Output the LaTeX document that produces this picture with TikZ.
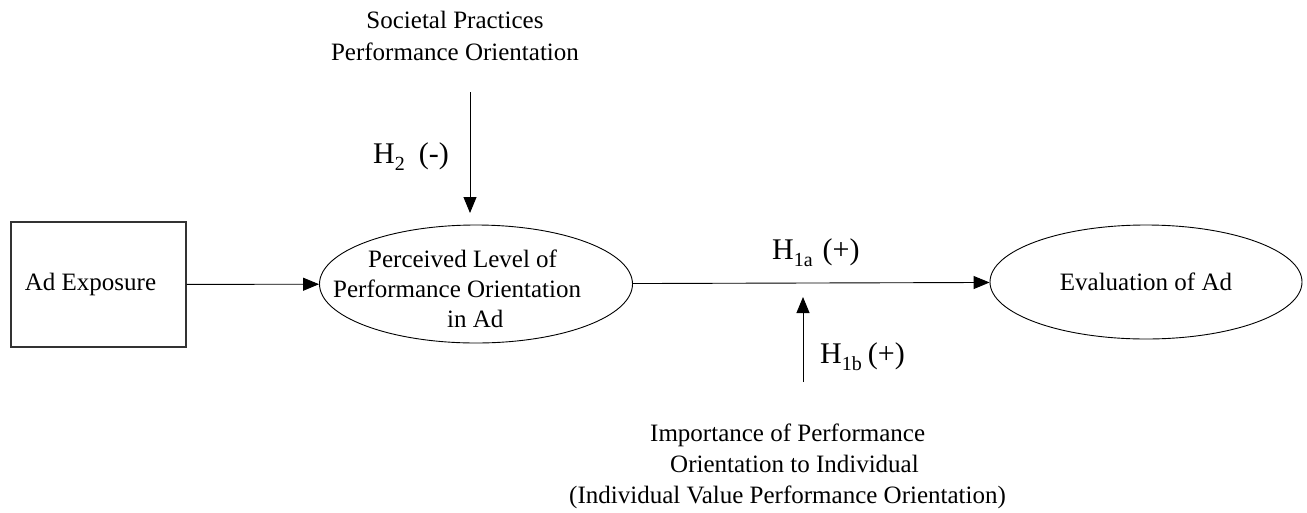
\documentclass[tikz,border=0pt]{standalone}
\usepackage{fontspec}
\setmainfont{Liberation Serif}
\usetikzlibrary{shapes.geometric,arrows.meta}
\newcommand\hsub[1]{\raisebox{-7pt}{\fontsize{20}{20}\selectfont #1}}
\begin{document}
\begin{tikzpicture}[x=1pt,y=-1pt,
  txt/.style={font=\fontsize{25}{31}\selectfont, inner sep=0pt},
  lbl/.style={font=\fontsize{30}{34}\selectfont, inner sep=0pt, anchor=west},
  arr/.style={-{Triangle[length=16pt,width=13pt]}, line width=0.9pt},
  ell/.style={ellipse, draw, line width=0.9pt, inner sep=0pt},
  boxst/.style={draw=black!80, line width=1.2pt, inner sep=0pt, minimum width=175pt, minimum height=125pt}
]
\useasboundingbox[fill=white] (0,0) rectangle (1307,512);
% nodes
\node[boxst, txt] (box) at (98.5,284.5) {Ad Exposure\makebox[16pt]{}};
\node[ell, minimum width=313pt, minimum height=118pt] (pl) at (476,284) {};
\node[txt, align=left, anchor=west, font=\fontsize{25}{30}\selectfont] (plt) at (333,289)
  {\hspace*{35pt}Perceived Level of\\Performance Orientation\\\hspace*{114pt}in Ad};
\node[ell, txt, minimum width=312pt, minimum height=114pt] (ev) at (1146,282) {Evaluation of Ad};
\node[txt, align=center, font=\fontsize{25}{32}\selectfont] (soc) at (455,36)
  {Societal Practices\\Performance Orientation};
\node[txt, align=left, anchor=west] (imp) at (569,466)
  {\hspace*{81pt}Importance of Performance\\\hspace*{101pt}Orientation to Individual\\(Individual Value Performance Orientation)};
% labels
\node[lbl] (h2) at (373,157) {H\hsub{2}\hspace{14pt}(-)};
\node[lbl] (h1a) at (772,253) {H\hsub{1a}\hspace{10pt}(+)};
\node[lbl] (h1b) at (820,357) {H\hsub{1b}\hspace{6pt}(+)};
% coordinates for free arrow ends
\coordinate (s1) at (470,92);
\coordinate (s2) at (470,213);
\coordinate (i1) at (803,382);
\coordinate (i2) at (803,297);
% connectors
\draw[arr] (box) -- (pl);
\draw[arr] (pl) -- (ev);
\draw[arr] (s1) -- (s2);
\draw[arr] (i1) -- (i2);
\end{tikzpicture}
\end{document}
